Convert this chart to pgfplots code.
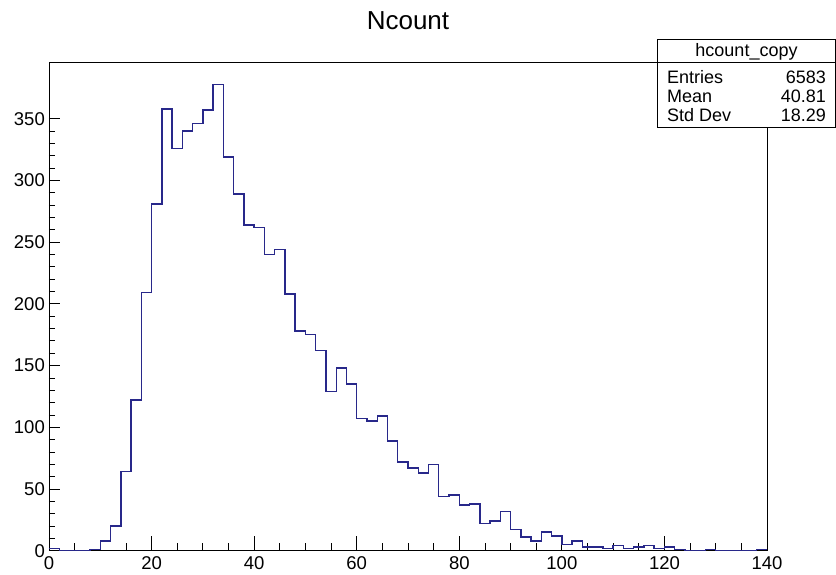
\documentclass[border=0pt]{standalone}
\usepackage{fontspec}
\setmainfont{Liberation Sans}
\usepackage{pgfplots}
\pgfplotsset{compat=1.18}
\definecolor{rootblue}{RGB}{40,40,138}

% bin contents of hcount_copy, 70 bins of width 2 from 0 to 140 (left edges)
\pgfplotstableread{
x   n
0   2
2   0
4   0
6   0
8   1
10  8
12  20
14  64
16  122
18  209
20  281
22  358
24  326
26  340
28  346
30  357
32  378
34  319
36  289
38  264
40  262
42  240
44  244
46  208
48  178
50  175
52  162
54  129
56  148
58  135
60  107
62  105
64  109
66  89
68  72
70  67
72  63
74  70
76  44
78  45
80  37
82  38
84  22
86  24
88  32
90  17
92  11
94  8
96  15
98  12
100 5
102 8
104 3
106 3
108 2
110 4
112 2
114 3
116 4
118 2
120 3
122 1
124 0
126 0
128 1
130 0
132 0
134 0
136 0
138 1
140 1
}\hcount

\begin{document}
\begin{tikzpicture}[x=1pt,y=1pt]
\useasboundingbox (0,0) rectangle (836,575);
\begin{axis}[
  at={(49pt,24.3pt)}, anchor=south west,
  scale only axis, width=718pt, height=488.7pt,
  xmin=0, xmax=140, ymin=0, ymax=396,
  xtick={0,20,...,140}, ytick={0,50,...,350},
  minor x tick num=3, minor y tick num=4,
  tick align=inside, tick pos=left,
  major tick length=10.7pt, minor tick length=6pt,
  xtick style={/pgfplots/major tick length=15pt,/pgfplots/minor tick length=7.5pt},
  tick style={black, line width=0.8pt},
  axis line style={line width=0.8pt},
  /pgf/number format/assume math mode=true,
  ticklabel style={font=\fontsize{18.5}{20}\selectfont, inner sep=0pt},
  xticklabel style={yshift=-6pt},
  yticklabel style={xshift=-4pt},
]
\addplot[const plot, rootblue, line width=1.4pt] table[x=x, y=n] {\hcount};
\end{axis}
\node[anchor=base, font=\fontsize{26}{30}\selectfont] at (408,545) {Ncount};
\draw[fill=white, line width=0.8pt] (657.7,535.5) rectangle (835.3,448);
\draw[line width=0.8pt] (657.7,513) -- (835.3,513);
\begin{scope}[font=\fontsize{18}{20}\selectfont]
\node[anchor=base] at (746.5,518) {hcount\_copy};
\node[anchor=base west, inner sep=0pt] at (667,491) {Entries};
\node[anchor=base east, inner sep=0pt] at (826,491) {6583};
\node[anchor=base west, inner sep=0pt] at (667,472) {Mean};
\node[anchor=base east, inner sep=0pt] at (826,472) {40.81};
\node[anchor=base west, inner sep=0pt] at (667,453) {Std Dev};
\node[anchor=base east, inner sep=0pt] at (826,453) {18.29};
\end{scope}
\end{tikzpicture}
\end{document}
